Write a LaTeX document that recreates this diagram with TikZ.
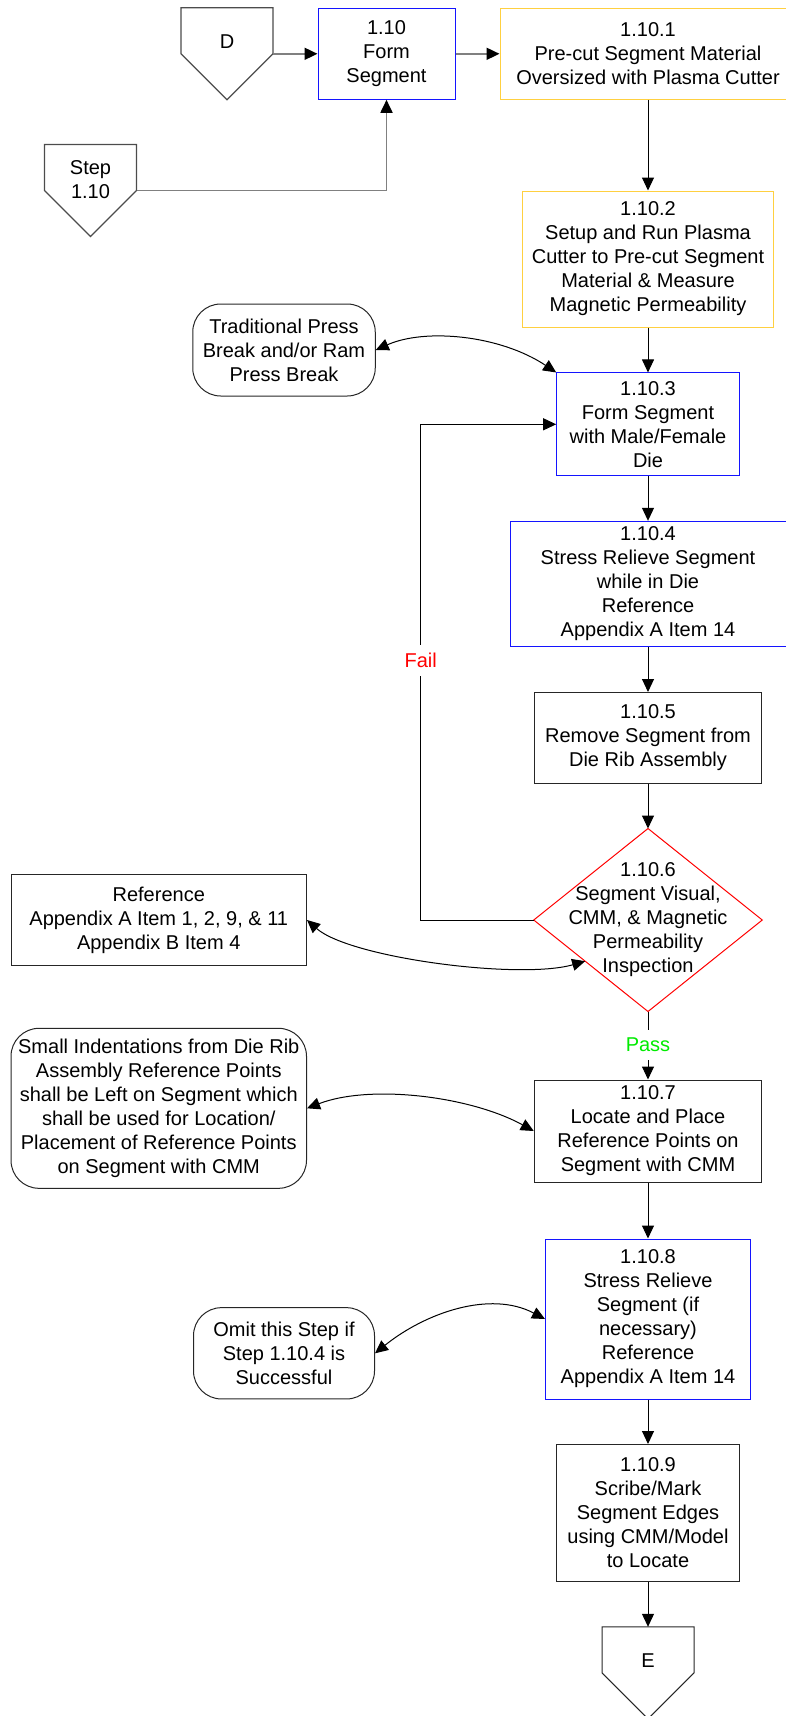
\documentclass[tikz,border=0pt]{standalone}
\usepackage{fontspec}
\setmainfont{Liberation Sans}
\usetikzlibrary{arrows.meta,calc}

\definecolor{boxblue}{RGB}{20,20,255}
\definecolor{boxgold}{RGB}{255,208,64}
\definecolor{passgreen}{RGB}{0,235,0}

\tikzset{
    box/.style={draw=black!85, line width=1pt, align=center, inner sep=0pt, font=\fontsize{20}{24}\selectfont},
    bluebox/.style={box, draw=boxblue},
    goldbox/.style={box, draw=boxgold},
    note/.style={box, rounded corners=28pt},
    offpage/.style={box, draw=none, minimum width=91pt, minimum height=91pt, text height=14pt, text depth=24pt},
    lbl/.style={fill=white, inner xsep=2pt, inner ysep=8pt, font=\fontsize{20}{24}\selectfont},
    flow/.style={line width=1pt, -{Triangle[length=13pt,width=12pt]}},
    greyflow/.style={draw=black!50, line width=1.8pt, -{Triangle[length=13pt,width=12pt,color=black]}},
    twoway/.style={line width=1pt, {Triangle[length=13pt,width=12pt]}-{Triangle[length=13pt,width=12pt]}}
}

\begin{document}
\begin{tikzpicture}[x=1pt,y=-1pt]
    \useasboundingbox (0,0) rectangle (785,1716);

    % top row
    \node[offpage] (D) at (227,53.8) {D};
    \node[bluebox, minimum width=137pt, minimum height=91pt] (s110) at (386.5,53.8) {1.10\\Form\\Segment};
    \node[goldbox, minimum width=296pt, minimum height=91pt] (s1101) at (648,53.8) {1.10.1\\Pre-cut Segment Material\\Oversized with Plasma Cutter};
    \node[offpage, text height=38pt, text depth=23pt] (step) at (90.5,190.5) {Step\\1.10};

    % main column
    \node[goldbox, minimum width=251pt, minimum height=136pt] (s1102) at (648,259) {1.10.2\\Setup and Run Plasma\\Cutter to Pre-cut Segment\\Material \& Measure\\Magnetic Permeability};
    \node[bluebox, minimum width=182.6pt, minimum height=102.7pt] (s1103) at (648,424.3) {1.10.3\\Form Segment\\with Male/Female\\Die};
    \node[bluebox, minimum width=276pt, minimum height=125.4pt] (s1104) at (648,584) {1.10.4\\Stress Relieve Segment\\while in Die\\Reference\\Appendix A Item 14};
    \node[box, minimum width=227.5pt, minimum height=91pt] (s1105) at (648,738) {1.10.5\\Remove Segment from\\Die Rib Assembly};
    \node[box, draw=none, minimum width=227.5pt, minimum height=182pt] (s1106) at (648,920) {1.10.6\\Segment Visual,\\CMM, \& Magnetic\\Permeability\\Inspection};
    \node[box, minimum width=227.5pt, minimum height=102pt] (s1107) at (648,1131) {1.10.7\\Locate and Place\\Reference Points on\\Segment with CMM};
    \node[bluebox, minimum width=205pt, minimum height=160pt] (s1108) at (648,1319) {1.10.8\\Stress Relieve\\Segment (if\\necessary)\\Reference\\Appendix A Item 14};
    \node[box, minimum width=182.6pt, minimum height=137pt] (s1109) at (648,1513) {1.10.9\\Scribe/Mark\\Segment Edges\\using CMM/Model\\to Locate};
    \node[offpage] (E) at (648,1672.8) {E};

    % side notes
    \node[note, minimum width=182.5pt, minimum height=92pt] (trad) at (284,350) {Traditional Press\\Break and/or Ram\\Press Break};
    \node[box, minimum width=295.5pt, minimum height=91pt] (ref) at (158.75,920) {Reference\\Appendix A Item 1, 2, 9, \& 11\\Appendix B Item 4};
    \node[note, minimum width=295.5pt, minimum height=160pt] (dents) at (158.75,1108.3) {Small Indentations from Die Rib\\Assembly Reference Points\\shall be Left on Segment which\\shall be used for Location/\\Placement of Reference Points\\on Segment with CMM};
    \node[note, minimum width=181pt, minimum height=91.3pt] (omit) at (284,1353.3) {Omit this Step if\\Step 1.10.4 is\\Successful};

    % outlines
    \draw[black!70, line width=1.2pt] (D.north west) -- (D.north east) -- (D.east) -- (D.south) -- (D.west) -- cycle;
    \draw[black!70, line width=1.2pt] (step.north west) -- (step.north east) -- (step.east) -- (step.south) -- (step.west) -- cycle;
    \draw[black!85, line width=1pt] (E.north west) -- (E.north east) -- (E.east) -- (E.south) -- (E.west) -- cycle;
    \draw[red, line width=1pt] (s1106.north) -- (s1106.east) -- (s1106.south) -- (s1106.west) -- cycle;

    % connectors
    \draw[greyflow] (D) -- (s110);
    \draw[greyflow] (s110) -- (s1101);
    \draw[greyflow] (step.east) -| (s110.south);
    \draw[flow] (s1101) -- (s1102);
    \draw[flow] (s1102) -- (s1103);
    \draw[flow] (s1103) -- (s1104);
    \draw[flow] (s1104) -- (s1105);
    \draw[flow] (s1105) -- (s1106.north);
    \coordinate (failturn) at (420.7,920);
    \draw[flow] (s1106.west) -- (failturn) |- node[lbl, pos=0.262, text=red] (fail) {Fail} (s1103.west);
    \draw[flow] (s1106.south) -- node[lbl, pos=0.49, text=passgreen] (pass) {Pass} (s1107.north);
    \draw[flow] (s1107) -- (s1108);
    \draw[flow] (s1108) -- (s1109);
    \draw[flow] (s1109) -- (E.north);

    \draw[twoway] (trad.east) .. controls (425,328) and (500,335) .. (s1103.north west);
    \draw[twoway] (ref.east) .. controls (350,958) and (520,980) .. ($(s1106.west)!0.45!(s1106.south)$);
    \draw[twoway] (dents.east) .. controls (370,1084) and (470,1096) .. (s1107.west);
    \draw[twoway] (omit.east) .. controls (425,1313) and (490,1290) .. (s1108.west);
\end{tikzpicture}
\end{document}
